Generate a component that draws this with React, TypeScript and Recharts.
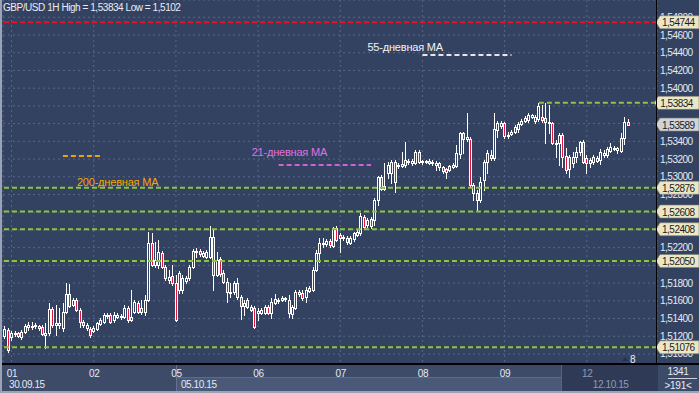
import React from 'react';
import { ComposedChart, Bar, XAxis, YAxis, CartesianGrid, ReferenceLine } from 'recharts';

const W = 699;
const H = 393;
const BG = '#344261';
const RED = '#e2163c';
const GREEN = '#8cc43c';
const FONT = '"Liberation Sans", Arial, sans-serif';

// GBP/USD hourly candles (30.09.15 – 12.10.15)
const opens = [
  1.5120,1.5127,1.5119,1.5123,1.5124,1.5119,1.5125,1.5130,1.5130,1.5132,
  1.5132,1.5130,1.5121,1.5124,1.5151,1.5133,1.5133,1.5129,1.5147,1.5168,
  1.5155,1.5161,1.5150,1.5136,1.5129,1.5128,1.5126,1.5128,1.5134,1.5136,
  1.5143,1.5144,1.5138,1.5142,1.5143,1.5142,1.5152,1.5138,1.5147,1.5158,
  1.5147,1.5147,1.5161,1.5225,1.5200,1.5200,1.5214,1.5198,1.5184,1.5188,
  1.5180,1.5172,1.5172,1.5182,1.5186,1.5198,1.5215,1.5216,1.5211,1.5209,
  1.5209,1.5232,1.5189,1.5207,1.5191,1.5181,1.5169,1.5170,1.5180,1.5164,
  1.5154,1.5161,1.5153,1.5152,1.5146,1.5146,1.5146,1.5153,1.5146,1.5158,
  1.5160,1.5161,1.5163,1.5161,1.5145,1.5152,1.5170,1.5169,1.5164,1.5171,
  1.5172,1.5195,1.5214,1.5224,1.5224,1.5228,1.5222,1.5242,1.5234,1.5232,
  1.5231,1.5225,1.5230,1.5234,1.5237,1.5255,1.5246,1.5252,1.5251,1.5274,
  1.5300,1.5286,1.5304,1.5304,1.5317,1.5312,1.5312,1.5313,1.5318,1.5316,
  1.5316,1.5328,1.5317,1.5317,1.5318,1.5316,1.5313,1.5316,1.5311,1.5309,
  1.5308,1.5311,1.5312,1.5326,1.5349,1.5345,1.5343,1.5291,1.5282,1.5274,
  1.5296,1.5317,1.5325,1.5321,1.5353,1.5357,1.5361,1.5346,1.5348,1.5351,
  1.5354,1.5360,1.5363,1.5364,1.5367,1.5363,1.5365,1.5367,1.5366,1.5362,
  1.5361,1.5338,1.5338,1.5347,1.5323,1.5322,1.5316,1.5322,1.5328,1.5339,
  1.5321,1.5316,1.5317,1.5318,1.5319,1.5325,1.5325,1.5329,1.5331,1.5330,
  1.5329,1.5344,1.5362,
];
const highs = [
  1.5132,1.5129,1.5126,1.5126,1.5125,1.5127,1.5134,1.5136,1.5136,1.5135,
  1.5133,1.5133,1.5135,1.5158,1.5153,1.5155,1.5152,1.5158,1.5180,1.5179,
  1.5163,1.5163,1.5152,1.5138,1.5135,1.5130,1.5132,1.5136,1.5141,1.5146,
  1.5146,1.5146,1.5147,1.5146,1.5145,1.5155,1.5154,1.5172,1.5161,1.5160,
  1.5161,1.5167,1.5238,1.5237,1.5226,1.5229,1.5216,1.5200,1.5195,1.5200,
  1.5189,1.5194,1.5189,1.5188,1.5200,1.5218,1.5220,1.5218,1.5216,1.5217,
  1.5244,1.5240,1.5215,1.5209,1.5195,1.5186,1.5180,1.5182,1.5186,1.5167,
  1.5161,1.5163,1.5155,1.5154,1.5152,1.5152,1.5155,1.5155,1.5163,1.5168,
  1.5163,1.5165,1.5164,1.5167,1.5155,1.5172,1.5172,1.5172,1.5176,1.5177,
  1.5198,1.5217,1.5231,1.5231,1.5230,1.5230,1.5243,1.5244,1.5237,1.5234,
  1.5233,1.5233,1.5238,1.5240,1.5259,1.5257,1.5253,1.5255,1.5276,1.5301,
  1.5302,1.5316,1.5317,1.5319,1.5319,1.5316,1.5328,1.5339,1.5320,1.5320,
  1.5330,1.5330,1.5319,1.5319,1.5320,1.5319,1.5318,1.5317,1.5312,1.5310,
  1.5313,1.5316,1.5336,1.5351,1.5351,1.5372,1.5345,1.5293,1.5285,1.5300,
  1.5319,1.5330,1.5330,1.5372,1.5363,1.5363,1.5362,1.5351,1.5353,1.5358,
  1.5362,1.5365,1.5369,1.5372,1.5371,1.5370,1.53834,1.5381,1.5383,1.5381,
  1.5362,1.5341,1.5349,1.5349,1.5332,1.5325,1.5328,1.5334,1.5340,1.5341,
  1.5325,1.5321,1.5325,1.5323,1.5331,1.5330,1.5334,1.5338,1.5335,1.5334,
  1.5349,1.5367,1.5365,
];
const lows = [
  1.5118,1.5102,1.5116,1.5120,1.5119,1.5117,1.5124,1.5127,1.5128,1.5129,
  1.5127,1.5121,1.5107,1.5121,1.5130,1.5121,1.5129,1.5126,1.5146,1.5153,
  1.5154,1.5149,1.5130,1.5130,1.5127,1.5119,1.5125,1.5127,1.5133,1.5135,
  1.5141,1.5135,1.5136,1.5141,1.5139,1.5141,1.5136,1.5137,1.5146,1.5146,
  1.5145,1.5144,1.5160,1.5199,1.5198,1.5197,1.5197,1.5184,1.5180,1.5178,
  1.5137,1.5169,1.5169,1.5180,1.5184,1.5197,1.5209,1.5211,1.5209,1.5208,
  1.5208,1.5172,1.5188,1.5188,1.5180,1.5159,1.5164,1.5168,1.5162,1.5139,
  1.5144,1.5152,1.5149,1.5129,1.5138,1.5145,1.5145,1.5145,1.5141,1.5156,
  1.5158,1.5160,1.5160,1.5142,1.5141,1.5151,1.5165,1.5161,1.5159,1.5170,
  1.5171,1.5194,1.5204,1.5221,1.5222,1.5221,1.5221,1.5228,1.5215,1.5229,
  1.5224,1.5224,1.5228,1.5233,1.5234,1.5242,1.5243,1.5242,1.5246,1.5268,
  1.5285,1.5285,1.5299,1.5293,1.5283,1.5310,1.5311,1.5311,1.5314,1.5313,
  1.5314,1.5316,1.5314,1.5316,1.5314,1.5313,1.5308,1.5308,1.5304,1.5299,
  1.5306,1.5310,1.5311,1.5321,1.5327,1.5340,1.5288,1.5274,1.5261,1.5272,
  1.5285,1.5304,1.5319,1.5319,1.5345,1.5355,1.5344,1.5344,1.5347,1.5349,
  1.5351,1.5358,1.5362,1.5362,1.5366,1.5361,1.5363,1.5362,1.5338,1.5349,
  1.5337,1.5322,1.5313,1.5311,1.5304,1.5300,1.5311,1.5317,1.5325,1.5316,
  1.5304,1.5311,1.5314,1.5317,1.5314,1.5322,1.5322,1.5328,1.5330,1.5327,
  1.5328,1.5337,1.5358,
];
const closes = [
  1.5128,1.5104,1.5124,1.5124,1.5120,1.5125,1.5132,1.5133,1.5132,1.5133,
  1.5129,1.5123,1.5124,1.5151,1.5133,1.5135,1.5135,1.5147,1.5168,1.5154,
  1.5161,1.5150,1.5136,1.5133,1.5133,1.5121,1.5129,1.5135,1.5138,1.5144,
  1.5144,1.5136,1.5144,1.5144,1.5142,1.5152,1.5138,1.5142,1.5159,1.5147,
  1.5152,1.5161,1.5225,1.5200,1.5206,1.5215,1.5198,1.5186,1.5187,1.5180,
  1.5138,1.5191,1.5186,1.5186,1.5198,1.5216,1.5216,1.5213,1.5214,1.5215,
  1.5232,1.5189,1.5206,1.5190,1.5181,1.5170,1.5170,1.5180,1.5164,1.5154,
  1.5158,1.5153,1.5150,1.5130,1.5149,1.5150,1.5153,1.5146,1.5159,1.5162,
  1.5161,1.5163,1.5162,1.5146,1.5153,1.5170,1.5168,1.5163,1.5172,1.5174,
  1.5195,1.5214,1.5225,1.5225,1.5228,1.5223,1.5242,1.5229,1.5231,1.5231,
  1.5226,1.5231,1.5237,1.5238,1.5256,1.5243,1.5251,1.5244,1.5274,1.5300,
  1.5286,1.5290,1.5313,1.5317,1.5294,1.5313,1.5314,1.5319,1.5317,1.5318,
  1.5328,1.5317,1.5318,1.5318,1.5316,1.5317,1.5316,1.5311,1.5306,1.5305,
  1.5312,1.5313,1.5327,1.5349,1.5343,1.5343,1.5291,1.5282,1.5274,1.5294,
  1.5317,1.5327,1.5321,1.5354,1.5361,1.5361,1.5346,1.5347,1.5351,1.5356,
  1.5360,1.5363,1.5366,1.5370,1.5370,1.5367,1.5380,1.5364,1.5362,1.5361,
  1.5338,1.5337,1.5347,1.5322,1.5308,1.5309,1.5322,1.5328,1.5339,1.5317,
  1.5316,1.5319,1.5322,1.5321,1.5328,1.5327,1.5331,1.5334,1.5332,1.5332,
  1.5344,1.5362,1.53589,
];

const EMPTY_SLOTS = 8;
const dayTicks = [2, 26, 50, 74, 98, 122, 146, 170];
const dayLabels = ['01', '02', '05', '06', '07', '08', '09', '12'];
const dateLabels: Record<number, string> = { 2: '30.09.15', 50: '05.10.15', 170: '12.10.15' };
const priceTicks = [1.51, 1.512, 1.514, 1.516, 1.518, 1.52, 1.522, 1.524, 1.526, 1.528,
  1.53, 1.532, 1.534, 1.536, 1.538, 1.54, 1.542, 1.544, 1.546, 1.548];
const greenLevels = [1.52876, 1.52608, 1.52408, 1.5205, 1.51076];
const highLevel = 1.53834;
const redLevel = 1.54744;
const lastPrice = 1.53589;
const ma200 = 1.53234;
const ma21 = 1.53133;
const ma55 = 1.54374;
const markerLevels = [redLevel, highLevel, lastPrice, ...greenLevels];

const Y_DOMAIN: [number, number] = [1.50887, 1.54995];
const PLOT_H = 364;
const PX_PER_UNIT = PLOT_H / (Y_DOMAIN[1] - Y_DOMAIN[0]);
const BOX_HALF = 6.5;
const GLYPH_HALF = 4;

const data = Array.from({ length: opens.length + EMPTY_SLOTS }, (_, i) =>
  i < opens.length
    ? { idx: i, o: opens[i], h: highs[i], l: lows[i], c: closes[i] }
    : { idx: i, o: null, h: null, l: null, c: null }
);

const fmt = (v: number) => v.toFixed(5).replace('.', ',');

const Candle = (props: any) => {
  const { x, y, width, height, payload } = props;
  if (!payload || payload.o == null || x == null) return null;
  const top = Math.min(y, y + height);
  const bot = Math.max(y, y + height);
  const range = payload.h - payload.l;
  const py = (p: number) => (range === 0 ? top : top + ((payload.h - p) / range) * (bot - top));
  const cx = Math.floor(x + width / 2) + 0.5;
  const yo = py(payload.o);
  const yc = py(payload.c);
  const bull = payload.c >= payload.o;
  const bt = Math.round(Math.min(yo, yc)) + 0.5;
  const bb = Math.max(bt, Math.round(Math.max(yo, yc)) + 0.5);
  return (
    <g>
      <line x1={cx} x2={cx} y1={Math.round(top)} y2={Math.round(bot) + 1} stroke="#ffffff" strokeWidth={1} />
      <rect x={cx - 1} y={bt} width={2} height={bb - bt} fill={bull ? BG : RED} stroke="#ffffff" strokeWidth={1} />
    </g>
  );
};

const XTick = (props: any) => {
  const { x, y, payload } = props;
  const v = payload.value;
  const i = dayTicks.indexOf(v);
  const dim = v === 170;
  const color = dim ? '#8f9bb3' : '#e4eaf4';
  const sub = dateLabels[v];
  const subDx = v === 2 ? -2.5 : v === 50 ? 5 : 6;
  return (
    <g>
      <text x={x + 0.5} y={y + 1} textAnchor="middle" dominantBaseline="central" fill={color}
        fontSize={10} fontFamily={FONT} letterSpacing={-0.3}>{dayLabels[i]}</text>
      {sub ? (
        <text x={x + subDx} y={y + 12} textAnchor="start" dominantBaseline="central" fill={color}
          fontSize={10} fontFamily={FONT} letterSpacing={-0.4}>{sub}</text>
      ) : null}
    </g>
  );
};

// tick labels partly covered by a price marker box keep only their visible part
const YTick = (props: any) => {
  const { x, y, payload } = props;
  const v = payload.value;
  let clipTop = y - GLYPH_HALF;
  let clipBot = y + GLYPH_HALF;
  for (const m of markerLevels) {
    const my = y - (m - v) * PX_PER_UNIT;
    const bTop = my - BOX_HALF;
    const bBot = my + BOX_HALF;
    if (bBot <= clipTop || bTop >= clipBot) continue;
    if (my <= y) clipTop = Math.max(clipTop, bBot);
    else clipBot = Math.min(clipBot, bTop);
  }
  if (clipBot - clipTop < 2) return null;
  const id = `ytclip-${Math.round(v * 1000)}`;
  const clipped = clipTop > y - GLYPH_HALF || clipBot < y + GLYPH_HALF;
  const cTop = clipTop > y - GLYPH_HALF ? clipTop : y - 10;
  const cBot = clipBot < y + GLYPH_HALF ? clipBot : y + 10;
  return (
    <g>
      {clipped ? (
        <defs>
          <clipPath id={id}>
            <rect x={x - 2} y={cTop} width={45} height={cBot - cTop} />
          </clipPath>
        </defs>
      ) : null}
      <text x={x} y={y} textAnchor="start" dominantBaseline="central" fill="#e4eaf4"
        fontSize={10} fontFamily={FONT} letterSpacing={-0.5}
        clipPath={clipped ? `url(#${id})` : undefined}>{fmt(v)}</text>
    </g>
  );
};

const marker = (value: number, fill: string) => (props: any) => {
  const vb = props.viewBox || {};
  const right = vb.x + vb.width;
  const y = vb.y;
  return (
    <g>
      <polygon
        points={`${right - 1},${y} ${right + 3},${y - BOX_HALF} ${W},${y - BOX_HALF} ${W},${y + BOX_HALF} ${right + 3},${y + BOX_HALF}`}
        fill={fill} stroke="#7d7c6c" strokeWidth={0.6} />
      <text x={right + 5} y={y + 0.5} dominantBaseline="central" fontSize={10} fill="#1c1c1c"
        fontFamily={FONT} letterSpacing={-0.5}>{fmt(value)}</text>
    </g>
  );
};

const maText = (text: string, color: string, dx: number, dy: number) => (props: any) => {
  const vb = props.viewBox || {};
  return (
    <text x={vb.x + dx} y={vb.y + dy} dominantBaseline="central" fontSize={11} fill={color}
      fontFamily={FONT} letterSpacing={-0.2}>{text}</text>
  );
};

export default function App() {
  return (
    <div style={{ position: 'fixed', left: 0, top: 0, width: W, height: H, background: BG, overflow: 'hidden', fontFamily: FONT }}>
      <div style={{ position: 'absolute', left: 0, top: 364, width: W, height: 29, background: '#3d4b69' }} />
      <div style={{ position: 'absolute', left: 177, top: 377, width: 384, height: 14, background: '#4a5978', borderTop: '1px solid #5e6c89' }} />
      <div style={{ position: 'absolute', left: 176, top: 364, width: 1, height: 27, background: '#64728f' }} />
      <div style={{ position: 'absolute', left: 561, top: 364, width: 96, height: 27, background: '#2f3b56', borderLeft: '1px solid #56637f' }} />
      <div style={{ position: 'absolute', left: 0, top: 0 }}>
        <ComposedChart width={W} height={H} data={data} margin={{ top: 0, right: 0, bottom: 0, left: 3 }} barCategoryGap="10%">
          <CartesianGrid stroke="#57668a" strokeDasharray="2 3" />
          <XAxis dataKey="idx" type="category" ticks={dayTicks} interval={0} tick={<XTick />}
            tickLine={false} axisLine={false} height={29} />
          <YAxis orientation="right" width={42} domain={Y_DOMAIN} ticks={priceTicks} interval={0}
            allowDataOverflow tick={<YTick />} tickLine={false} axisLine={false} tickSize={0} tickMargin={3} />
          <Bar dataKey={(d: any) => (d.o == null ? null : [d.l, d.h])} shape={<Candle />} isAnimationActive={false} />
          <ReferenceLine y={redLevel} stroke="#e8102a" strokeWidth={2} strokeDasharray="5 3" label={marker(redLevel, '#ebe7c6')} />
          {greenLevels.map((lv) => (
            <ReferenceLine key={lv} y={lv} stroke={GREEN} strokeWidth={2} strokeDasharray="5 3" label={marker(lv, '#ebe7c6')} />
          ))}
          <ReferenceLine segment={[{ x: 156, y: highLevel }, { x: 190, y: highLevel }]} stroke={GREEN}
            strokeWidth={2} strokeDasharray="5 3" label={marker(highLevel, '#ebe7c6')} />
          <ReferenceLine y={lastPrice} stroke="transparent" strokeWidth={0} label={marker(lastPrice, '#cfd3da')} />
          <ReferenceLine segment={[{ x: 17, y: ma200 }, { x: 28, y: ma200 }]} stroke="#f0a10a" strokeWidth={2}
            strokeDasharray="5 3" label={maText('200-дневная MA', '#f5a800', 14, 26)} />
          <ReferenceLine segment={[{ x: 80, y: ma21 }, { x: 107, y: ma21 }]} stroke="#d65fd6" strokeWidth={2}
            strokeDasharray="5 3" label={maText('21-дневная MA', '#e070e0', -27, -13)} />
          <ReferenceLine segment={[{ x: 122, y: ma55 }, { x: 148, y: ma55 }]} stroke="#e6e6e6" strokeWidth={2}
            strokeDasharray="5 3" label={maText('55-дневная MA', '#f2f2f2', -55, -8)} />
        </ComposedChart>
      </div>
      <div style={{ position: 'absolute', left: 0, top: 363, width: W, height: 2, background: '#000' }} />
      <div style={{ position: 'absolute', left: 656, top: 0, width: 1, height: 364, background: '#000' }} />
      <div style={{ position: 'absolute', left: 0, top: 0, width: 2, height: H, background: '#9aa3b5' }} />
      <div style={{ position: 'absolute', left: 0, top: 391, width: W, height: 2, background: '#9aa3b5' }} />
      <div style={{ position: 'absolute', left: 3, top: 2, fontSize: 10, lineHeight: '12px', color: '#e8edf5', letterSpacing: -0.45, whiteSpace: 'nowrap' }}>
        GBP/USD 1H High = 1,53834 Low = 1,5102
      </div>
      <div style={{ position: 'absolute', left: 622, top: 357, width: 0, height: 0, borderLeft: '3px solid transparent', borderRight: '3px solid transparent', borderBottom: '4px solid #27324a' }} />
      <div style={{ position: 'absolute', left: 630, top: 354, fontSize: 10, lineHeight: '12px', color: '#e8edf5' }}>8</div>
      <div style={{ position: 'absolute', left: 657, top: 366, width: 42, textAlign: 'center', fontSize: 10, lineHeight: '12px', color: '#e8edf5', letterSpacing: -0.3 }}>1341</div>
      <div style={{ position: 'absolute', left: 668, top: 378, width: 29, height: 1, background: '#c9d0dc' }} />
      <div style={{ position: 'absolute', left: 657, top: 380, width: 42, textAlign: 'center', fontSize: 10, lineHeight: '12px', color: '#e8edf5', letterSpacing: -0.3 }}>&gt;191&lt;</div>
    </div>
  );
}
